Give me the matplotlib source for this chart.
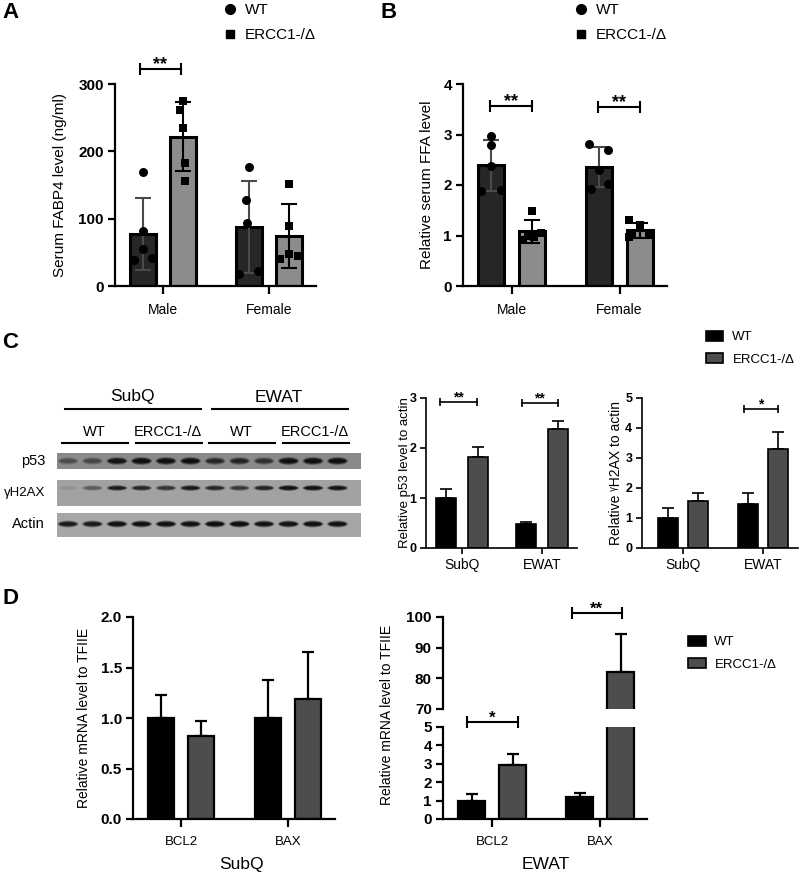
import numpy as np
import matplotlib.pyplot as plt
from matplotlib.patches import Rectangle, Ellipse, Patch
from matplotlib.lines import Line2D

plt.rcParams['font.family'] = ['Liberation Sans', 'DejaVu Sans']

W, H = 800, 875

# ---- data -------------------------------------------------------------
groups = ['WT', 'ERCC1-/Δ']
sexes = ['Male', 'Female']
tissues = ['SubQ', 'EWAT']
genes = ['BCL2', 'BAX']

# A: serum FABP4 (ng/ml), one value per mouse
fabp4_wt = [[168.6, 81.8, 54.5, 38.7, 42.0], [176.5, 128.0, 93.0, 17.9, 22.8]]
fabp4_ko = [[275.0, 262.0, 234.5, 182.5, 156.0], [151.7, 89.0, 47.0, 39.7, 44.6]]

# B: relative serum FFA, one value per mouse
ffa_wt = [[2.98, 2.80, 2.38, 1.88, 1.90], [2.81, 2.70, 2.30, 1.92, 2.02]]
ffa_ko = [[1.49, 1.04, 1.00, 0.91, 0.97], [1.31, 1.20, 1.01, 1.01, 0.98]]

# C: western blot band strength (0-1), 12 lanes
blot_rows = ['p53', 'γH2AX', 'Actin']
p53_bands = [0.30, 0.35, 0.85, 0.95, 0.92, 0.92, 0.60, 0.62, 0.50, 0.95, 0.95, 0.95]
h2ax_bands = [0.05, 0.30, 0.75, 0.65, 0.55, 0.80, 0.65, 0.50, 0.70, 0.90, 0.90, 0.85]
actin_bands = [0.80, 0.80, 0.95, 0.95, 0.95, 0.95, 1.00, 1.00, 0.90, 0.95, 0.95, 0.95]

# C: quantification (mean, error) per tissue
p53_wt, p53_wt_err = [1.00, 0.48], [0.19, 0.05]
p53_ko, p53_ko_err = [1.82, 2.37], [0.20, 0.16]
h2ax_wt, h2ax_wt_err = [1.00, 1.48], [0.32, 0.37]
h2ax_ko, h2ax_ko_err = [1.57, 3.30], [0.27, 0.57]

# D: relative mRNA to TFIIE per gene
subq_wt, subq_wt_err = [1.00, 1.00], [0.23, 0.375]
subq_ko, subq_ko_err = [0.82, 1.19], [0.15, 0.46]
ewat_wt, ewat_wt_err = [1.00, 1.18], [0.38, 0.23]
ewat_ko, ewat_ko_err = [2.95, 82.0], [0.58, 12.6]

# ---- helpers ----------------------------------------------------------
fig = plt.figure(figsize=(8, 8.75), dpi=100)

# overlay in pixel coordinates for the blot and panel letters
ov = fig.add_axes([0, 0, 1, 1])
ov.set_xlim(0, W)
ov.set_ylim(H, 0)
ov.axis('off')


def px_axes(x0, y0, x1, y1):
    return fig.add_axes([x0 / W, 1 - y1 / H, (x1 - x0) / W, (y1 - y0) / H])


def base_style(ax, lw, ticklen, xsize):
    for s in ['top', 'right']:
        ax.spines[s].set_visible(False)
    for s in ['left', 'bottom']:
        ax.spines[s].set_linewidth(lw)
    ax.tick_params(width=lw, length=ticklen, labelsize=xsize, pad=3)


def bracket(ax, x1, x2, y, label, lw=1.5, ms=8, fs=13, dy=-3):
    ax.plot([x1, x2], [y, y], color='k', lw=lw, marker='|', markersize=ms,
            markeredgewidth=lw, clip_on=False, zorder=6)
    ax.annotate(label, xy=((x1 + x2) / 2, y), xytext=(0, dy), textcoords='offset points',
                ha='center', va='bottom', fontsize=fs, fontweight='bold',
                annotation_clip=False)


def dot_panel(ax, wt_pts, ko_pts, jit_wt, jit_ko, ylim, yticks, ylabel, lab_x):
    x = np.arange(len(sexes))
    sets = [(-0.19, wt_pts, jit_wt, '#262626', 'o', 42, '#4a4a4a'),
            (0.19, ko_pts, jit_ko, '#8c8c8c', 's', 36, 'k')]
    for off, pts, jit, fc, mk, sz, ec in sets:
        means = [np.mean(p) for p in pts]
        sds = [np.std(p, ddof=1) for p in pts]
        ax.bar(x + off, means, width=0.245, color=fc, edgecolor='k', linewidth=2.2, zorder=2)
        ax.errorbar(x + off, means, yerr=sds, fmt='none', ecolor=ec, elinewidth=1.5,
                    capsize=5.5, capthick=1.5, zorder=3)
        for xi, p, j in zip(x + off, pts, jit):
            ax.scatter(xi + np.array(j), p, marker=mk, s=sz, color='k', zorder=4, linewidths=0)
    ax.set_xlim(-0.45, 1.44)
    ax.set_ylim(*ylim)
    base_style(ax, 1.6, 5, 10)
    ax.tick_params(axis='x', length=6, pad=6)
    ax.set_xticks(x, sexes)
    ax.set_yticks(yticks, [str(t) for t in yticks], fontweight='bold', fontsize=11)
    ax.set_ylabel(ylabel, fontsize=11)
    ax.yaxis.set_label_coords(lab_x, 0.5)


def sem_bars(ax, wt, wt_err, ko, ko_err, off, width, lw, cap):
    x = np.arange(2)
    for o, m, e, fc in [(-off, wt, wt_err, 'black'), (off, ko, ko_err, '#4d4d4d')]:
        ax.bar(x + o, m, width=width, color=fc, edgecolor='k', linewidth=lw, zorder=2)
        ax.errorbar(x + o, m, yerr=[np.zeros(2), e], fmt='none', ecolor='k',
                    elinewidth=lw, capsize=cap, capthick=lw, zorder=1)
    return x


# ---- A ------------------------------------------------------------------
ax_a = px_axes(115, 84, 316, 286)
dot_panel(ax_a, fabp4_wt, fabp4_ko,
          [[0, 0, 0, -0.085, 0.085], [0, -0.03, -0.02, -0.095, 0.085]],
          [[0, -0.03, 0, 0.02, 0.02], [0, 0, 0, -0.085, 0.085]],
          (0, 300), [0, 100, 200, 300], 'Serum FABP4 level (ng/ml)', -0.239)
bracket(ax_a, -0.215, 0.17, 322, '**')

# ---- B ------------------------------------------------------------------
ax_b = px_axes(463, 84, 667, 286)
dot_panel(ax_b, ffa_wt, ffa_ko,
          [[0, 0, 0, -0.09, 0.09], [-0.09, 0.08, 0, -0.07, 0.08]],
          [[0, 0.08, -0.04, -0.08, 0.02], [-0.1, 0, -0.07, 0.08, -0.1]],
          (0, 4), [0, 1, 2, 3, 4], 'Relative serum FFA level', -0.142)
bracket(ax_b, -0.2, 0.185, 3.56, '**')
bracket(ax_b, 0.8, 1.19, 3.54, '**')

leg_handles = [Line2D([], [], marker='o', ls='none', color='k', ms=7),
               Line2D([], [], marker='s', ls='none', color='k', ms=6.3)]
for lx in [222, 573]:
    fig.legend(leg_handles, groups, loc='upper left', bbox_to_anchor=(lx / W, 1 - 3 / H),
               frameon=False, fontsize=11, handlelength=1.0, handletextpad=0.5,
               labelspacing=0.75, borderpad=0, borderaxespad=0)

# ---- C: blot ------------------------------------------------------------
lane_x = 68 + 24.5 * np.arange(12)
strips = [(453, 469, 461, 4.0, '#8a8a8a', p53_bands),
          (480, 506, 488, 3.0, '#a2a2a2', h2ax_bands),
          (513, 537, 524, 3.5, '#a6a6a6', actin_bands)]
for (top, bot, yc, hh, bg, bands), name in zip(strips, blot_rows):
    ov.add_patch(Rectangle((57, top), 304, bot - top, facecolor=bg, edgecolor='none'))
    for lx, v in zip(lane_x, bands):
        for k, a in [(1.0, 0.35), (0.75, 0.6), (0.5, 0.9)]:
            ov.add_patch(Ellipse((lx, yc), 21 * (0.6 + 0.4 * k), 2 * hh * k,
                                 facecolor='#0a0a0a', edgecolor='none', alpha=v * a))
    ov.text(45, yc + (5 if name == 'γH2AX' else 0), name, ha='right', va='center',
            fontsize=9.5 if name == 'γH2AX' else 10.5)

for i, t in enumerate(tissues):
    first, last = lane_x[6 * i], lane_x[6 * i + 5]
    ov.plot([first - 3, last + 10], [409, 409], color='k', lw=1.5)
    ov.text((first + last) / 2 + 3, 397, t, ha='center', va='center', fontsize=12.5)
    for j, g in enumerate(groups):
        f, l = lane_x[6 * i + 3 * j], lane_x[6 * i + 3 * j + 2]
        ov.plot([f - 6, l + 11], [443, 443], color='k', lw=1.5)
        ov.text((f + l) / 2 + 2, 432, g, ha='center', va='center', fontsize=10.5)

# ---- C: quantification ---------------------------------------------------
ax_c1 = px_axes(426, 398, 577, 548)
x = sem_bars(ax_c1, p53_wt, p53_wt_err, p53_ko, p53_ko_err, 0.197, 0.25, 1.2, 4)
ax_c1.set_xlim(-0.45, 1.44)
ax_c1.set_ylim(0, 3)
base_style(ax_c1, 1.2, 4, 10)
ax_c1.set_xticks(x, tissues)
ax_c1.set_yticks([0, 1, 2, 3], ['0', '1', '2', '3'], fontweight='bold', fontsize=9)
ax_c1.set_ylabel('Relative p53 level to actin', fontsize=9.5)
ax_c1.yaxis.set_label_coords(-0.10, 0.5)
bracket(ax_c1, -0.28, 0.19, 2.92, '**', lw=1.2, ms=6, fs=10, dy=-2)
bracket(ax_c1, 0.75, 1.2, 2.9, '**', lw=1.2, ms=6, fs=10, dy=-2)

ax_c2 = px_axes(642, 398, 798, 548)
x = sem_bars(ax_c2, h2ax_wt, h2ax_wt_err, h2ax_ko, h2ax_ko_err, 0.19, 0.25, 1.2, 4)
ax_c2.set_xlim(-0.51, 1.44)
ax_c2.set_ylim(0, 5)
base_style(ax_c2, 1.2, 4, 10)
ax_c2.set_xticks(x, tissues)
ax_c2.set_yticks(range(6), [str(i) for i in range(6)], fontweight='bold', fontsize=9)
ax_c2.set_ylabel('Relative ᵞH2AX to actin', fontsize=10)
ax_c2.yaxis.set_label_coords(-0.125, 0.5)
bracket(ax_c2, 0.76, 1.19, 4.63, '*', lw=1.2, ms=6, fs=10, dy=-2)

sq_handles = [Patch(facecolor='black', edgecolor='k', lw=1.2),
              Patch(facecolor='#4d4d4d', edgecolor='k', lw=1.2)]
fig.legend(sq_handles, groups, loc='upper left', bbox_to_anchor=(706 / W, 1 - 331 / H),
           frameon=False, fontsize=9.5, handlelength=1.3, handleheight=0.75,
           handletextpad=0.7, labelspacing=0.75, borderpad=0, borderaxespad=0)

# ---- D: SubQ -------------------------------------------------------------
ax_d1 = px_axes(133, 617, 335, 819)
x = sem_bars(ax_d1, subq_wt, subq_wt_err, subq_ko, subq_ko_err, 0.187, 0.245, 1.6, 4.5)
ax_d1.set_xlim(-0.45, 1.44)
ax_d1.set_ylim(0, 2)
base_style(ax_d1, 1.6, 5, 9.5)
ax_d1.tick_params(axis='x', length=6, pad=6)
ax_d1.set_xticks(x, genes)
ax_d1.set_yticks([0, 0.5, 1, 1.5, 2], ['0.0', '0.5', '1.0', '1.5', '2.0'],
                 fontweight='bold', fontsize=11)
ax_d1.set_ylabel('Relative mRNA level to TFIIE', fontsize=10)
ax_d1.yaxis.set_label_coords(-0.208, 0.5)
ax_d1.set_xlabel('SubQ', fontsize=12.5)
ax_d1.xaxis.set_label_coords(0.535, -0.19)

# ---- D: EWAT (broken axis) -----------------------------------------------
ax_du = px_axes(443, 617, 647, 709)
ax_dl = px_axes(443, 727, 647, 819)
for ax in [ax_du, ax_dl]:
    x = sem_bars(ax, ewat_wt, ewat_wt_err, ewat_ko, ewat_ko_err, 0.19, 0.245, 1.6, 4.5)
    ax.set_xlim(-0.454, 1.435)
    base_style(ax, 1.6, 5, 9.5)
ax_du.set_ylim(70, 100)
ax_du.spines['bottom'].set_visible(False)
ax_du.set_xticks([])
ax_du.set_yticks([70, 80, 90, 100], ['70', '80', '90', '100'], fontweight='bold', fontsize=11)
ax_dl.set_ylim(0, 5)
ax_dl.tick_params(axis='x', length=6, pad=6)
ax_dl.set_xticks(x, genes)
ax_dl.set_yticks(range(6), [str(i) for i in range(6)], fontweight='bold', fontsize=11)
ax_dl.set_ylabel('Relative mRNA level to TFIIE', fontsize=10)
ax_dl.yaxis.set_label_coords(-0.24, 1.13)
ax_dl.set_xlabel('EWAT', fontsize=12.5)
ax_dl.xaxis.set_label_coords(0.505, -0.41)
bracket(ax_dl, -0.23, 0.24, 5.27, '*', fs=12)
bracket(ax_du, 0.74, 1.2, 101.3, '**', fs=12)

fig.legend(sq_handles, groups, loc='upper left', bbox_to_anchor=(688 / W, 1 - 636 / H),
           frameon=False, fontsize=9.5, handlelength=1.4, handleheight=0.75,
           handletextpad=0.6, labelspacing=0.75, borderpad=0, borderaxespad=0)

# ---- panel letters -----------------------------------------------------------
for s, px, py in [('A', 2, 12), ('B', 381, 12), ('C', 2, 343), ('D', 2, 598)]:
    ov.text(px, py, s, ha='left', va='center', fontsize=16, fontweight='bold')

fig.savefig('out.png', dpi=100)
